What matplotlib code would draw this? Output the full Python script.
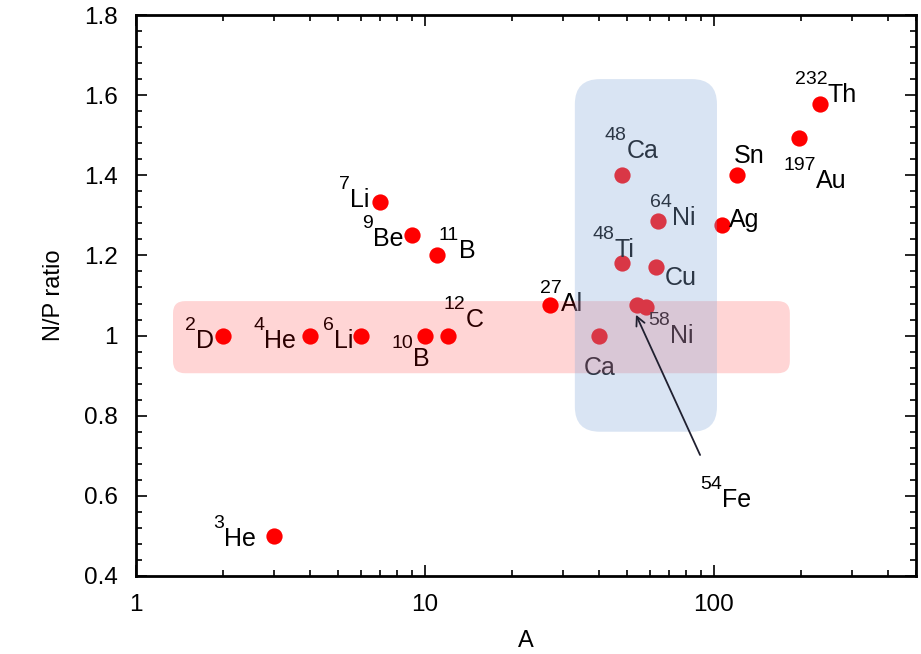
import numpy as np
import matplotlib
matplotlib.use("Agg")
import matplotlib.pyplot as plt
from matplotlib.patches import FancyBboxPatch
from matplotlib.ticker import LogLocator, NullFormatter, MultipleLocator

plt.rcParams['font.family'] = ['Liberation Sans', 'DejaVu Sans']

# ---- data ----
iso_mass = ['2', '3', '4', '6', '7', '9', '10', '11', '12', '27', '', '48',
            '48', '54', '58', '', '64', '', '', '197', '232']
symbols = ['D', 'He', 'He', 'Li', 'Li', 'Be', 'B', 'B', 'C', 'Al', 'Ca', 'Ca',
           'Ti', 'Fe', 'Ni', 'Cu', 'Ni', 'Ag', 'Sn', 'Au', 'Th']
mass_A = [2, 3, 4, 6, 7, 9, 10, 11, 12, 27, 40, 48, 48, 54, 58, 63, 64, 107, 120, 197, 232]
np_ratio = [1.0, 0.5, 1.0, 1.0, 1.333, 1.25, 1.0, 1.2, 1.0, 1.077, 1.0, 1.4,
            1.182, 1.077, 1.071, 1.172, 1.286, 1.277, 1.4, 1.494, 1.578]
# label placement: (dx px, dy px, ha); None = placed separately
label_pos = [(-9, -12, 'right'), (-18, -10, 'right'), (-14, -12, 'right'), (-8, -12, 'right'),
             (-11, -5, 'right'), (-8, -11, 'right'), (5, -30, 'right'), (2, -3, 'left'),
             (-4, 9, 'left'), (-10, -6, 'left'), (1, -39, 'center'), (-17, 17, 'left'),
             (-29, 6, 'left'), None, (3, -36, 'left'), (9, -18, 'left'), (-8, -4, 'left'),
             (6, -2, 'left'), (-3, 12, 'left'), (-16, -50, 'left'), (-25, 2, 'left')]

fe_label_xy = (89.5, 0.572)
fe_arrow_tail = (89.5, 0.702)
fe_arrow_head = (53.7, 1.052)

# highlight regions: (A_min, A_max, ratio_min, ratio_max)
pink_region = (1.343, 183.0, 0.906, 1.086)
blue_region = (33.0, 102.4, 0.760, 1.640)

xticks = [1, 10, 100]
xticklabels = ['1', '10', '100']
yticks = [0.4, 0.6, 0.8, 1.0, 1.2, 1.4, 1.6, 1.8]
yticklabels = ['0.4', '0.6', '0.8', '1', '1.2', '1.4', '1.6', '1.8']

# ---- figure ----
fig = plt.figure(figsize=(9.21, 6.54), dpi=100)
ax = fig.add_axes([136/921, 1-576/654, 780/921, 561/654])
ax.set_xscale('log')
ax.set_xlim(1, 500)
ax.set_ylim(0.4, 1.8)

ax.plot(mass_A, np_ratio, 'o', color='#ff0000', markersize=11.7, markeredgewidth=0, zorder=2)

fs = 18
fs_sup = 14
sup_raise = 18  # px

fig.canvas.draw()
renderer = fig.canvas.get_renderer()

def twidth(s, size):
    if not s:
        return 0.0
    t = fig.text(0, 0, s, fontsize=size)
    w = t.get_window_extent(renderer).width
    t.remove()
    return w

def iso_label(xy, sup, main, dx, dy, ha, coords='data'):
    sw = twidth(sup, fs_sup)
    mw = twidth(main, fs)
    if ha == 'left':
        sx = dx
    elif ha == 'right':
        sx = dx - mw - sw
    else:
        sx = dx - (mw + sw) / 2
    mx = sx + sw
    if sup:
        ax.annotate(sup, xy=xy, xycoords=coords, xytext=(sx, dy + sup_raise),
                    textcoords='offset pixels', ha='left', va='baseline',
                    fontsize=fs_sup, color='black', zorder=3)
    ax.annotate(main, xy=xy, xycoords=coords, xytext=(mx, dy),
                textcoords='offset pixels', ha='left', va='baseline',
                fontsize=fs, color='black', zorder=3)

for sup, main, a, r, pos in zip(iso_mass, symbols, mass_A, np_ratio, label_pos):
    if pos is None:
        continue
    dx, dy, ha = pos
    iso_label((a, r), sup, main, dx, dy, ha)

iso_label(fe_label_xy, '54', 'Fe', 0, 0, 'left')
ax.annotate('', xy=fe_arrow_head, xytext=fe_arrow_tail,
            arrowprops=dict(arrowstyle='->', color='#202030', lw=1.3,
                            mutation_scale=16, shrinkA=0, shrinkB=0), zorder=6)

W, H = 780.0, 561.0
to_axes = ax.transData + ax.transAxes.inverted()

def add_box(region, r_px, color, alpha, z):
    (x0, y0) = to_axes.transform((region[0], region[2]))
    (x1, y1) = to_axes.transform((region[1], region[3]))
    p = FancyBboxPatch((x0, y0), x1 - x0, y1 - y0,
                       boxstyle=f"round,pad=0,rounding_size={r_px/W}",
                       mutation_aspect=W/H, transform=ax.transAxes,
                       facecolor=color, edgecolor='none', alpha=alpha, zorder=z)
    ax.add_patch(p)

add_box(pink_region, 12, '#ff0000', 0.165, 4)
add_box(blue_region, 25, '#8aacdb', 0.32, 5)

ax.set_xticks(xticks)
ax.set_xticklabels(xticklabels)
ax.xaxis.set_minor_locator(LogLocator(base=10, subs=np.arange(2, 10)))
ax.xaxis.set_minor_formatter(NullFormatter())
ax.set_yticks(yticks)
ax.set_yticklabels(yticklabels)
ax.yaxis.set_minor_locator(MultipleLocator(0.04))

ax.tick_params(which='both', direction='in', top=True, right=True, labelsize=17.5, width=1.2)
ax.tick_params(which='major', length=8)
ax.tick_params(which='minor', length=4)
ax.tick_params(axis='x', which='major', pad=13)
ax.tick_params(axis='y', which='major', pad=13)
for s in ax.spines.values():
    s.set_linewidth(2)

ax.set_xlabel('A', fontsize=17, labelpad=10)
ax.set_ylabel('N/P ratio', fontsize=17, labelpad=14)

fig.savefig('out.png', dpi=100)
